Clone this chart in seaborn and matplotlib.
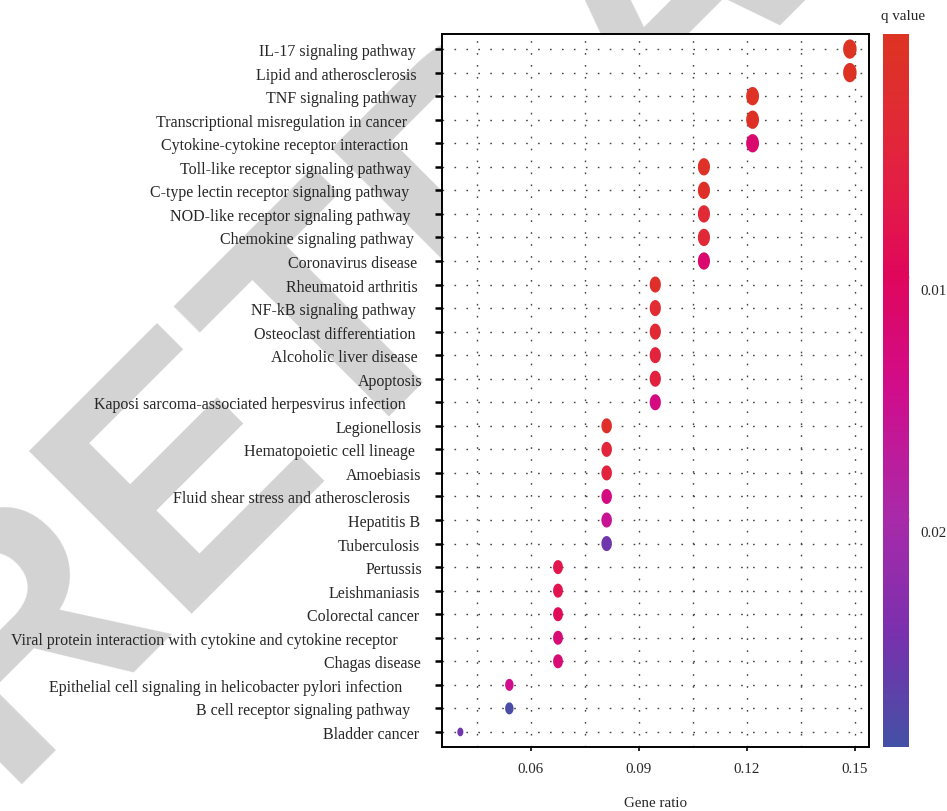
import numpy as np
import pandas as pd
import matplotlib
matplotlib.use("Agg")
import matplotlib.pyplot as plt
import matplotlib.transforms as mtransforms
import seaborn as sns
from matplotlib.colors import LinearSegmentedColormap, Normalize
from matplotlib.cm import ScalarMappable
from matplotlib.path import Path

# KEGG enrichment results
pathways = [
    "IL-17 signaling pathway",
    "Lipid and atherosclerosis",
    "TNF signaling pathway",
    "Transcriptional misregulation in cancer",
    "Cytokine-cytokine receptor interaction",
    "Toll-like receptor signaling pathway",
    "C-type lectin receptor signaling pathway",
    "NOD-like receptor signaling pathway",
    "Chemokine signaling pathway",
    "Coronavirus disease",
    "Rheumatoid arthritis",
    "NF-kB signaling pathway",
    "Osteoclast differentiation",
    "Alcoholic liver disease",
    "Apoptosis",
    "Kaposi sarcoma-associated herpesvirus infection",
    "Legionellosis",
    "Hematopoietic cell lineage",
    "Amoebiasis",
    "Fluid shear stress and atherosclerosis",
    "Hepatitis B",
    "Tuberculosis",
    "Pertussis",
    "Leishmaniasis",
    "Colorectal cancer",
    "Viral protein interaction with cytokine and cytokine receptor",
    "Chagas disease",
    "Epithelial cell signaling in helicobacter pylori infection",
    "B cell receptor signaling pathway",
    "Bladder cancer",
]
gene_ratio = [0.1486, 0.1486, 0.1216, 0.1216, 0.1216,
              0.1081, 0.1081, 0.1081, 0.1081, 0.1081,
              0.0946, 0.0946, 0.0946, 0.0946, 0.0946, 0.0946,
              0.0811, 0.0811, 0.0811, 0.0811, 0.0811, 0.0811,
              0.0676, 0.0676, 0.0676, 0.0676, 0.0676,
              0.0541, 0.0541, 0.0405]
gene_count = [11, 11, 9, 9, 9,
              8, 8, 8, 8, 8,
              7, 7, 7, 7, 7, 7,
              6, 6, 6, 6, 6, 6,
              5, 5, 5, 5, 5,
              4, 4, 3]
q_value = [0.0002, 0.0003, 0.0006, 0.0008, 0.0118,
           0.0010, 0.0012, 0.0035, 0.0040, 0.0118,
           0.0015, 0.0030, 0.0035, 0.0050, 0.0055, 0.0135,
           0.0015, 0.0045, 0.0050, 0.0135, 0.0160, 0.0255,
           0.0075, 0.0080, 0.0095, 0.0125, 0.0125,
           0.0147, 0.0288, 0.0256]

q_ticks = [0.01, 0.02]
x_major = [0.06, 0.09, 0.12, 0.15]
x_minor = [0.045, 0.075, 0.105, 0.135]

df = pd.DataFrame({"Pathway": pathways, "GeneRatio": gene_ratio,
                   "Count": gene_count, "q": q_value})

sns.set_theme(style="white")
plt.rcParams["font.family"] = ["Liberation Serif", "DejaVu Serif"]

cmap = LinearSegmentedColormap.from_list("qscale", [
    (0.00, "#DD3322"), (0.10, "#E02C32"), (0.22, "#E31D45"),
    (0.34, "#E0065C"), (0.50, "#D00D8C"), (0.68, "#A82AAA"),
    (0.84, "#7A30AE"), (1.00, "#4450A5")])
norm = Normalize(vmin=0.0, vmax=0.0294)

# marker area (pt^2) for each gene count
count_sizes = {3: 39, 4: 75, 5: 102, 6: 117, 7: 133, 8: 155, 9: 174, 11: 193}

fig = plt.figure(figsize=(9.47, 8.12), dpi=100)

# diagonal stamp behind the panel
fig.text(0.0, 0.0345, "RETRACTED", fontsize=241, fontweight="bold",
         family="Liberation Sans", color="#D3D3D3", rotation=45,
         rotation_mode="anchor", ha="left", va="baseline", zorder=-5)

ax = fig.add_axes([0.4667, 0.0788, 0.4509, 0.8781])
ax.set_facecolor("white")

# slightly tall elliptical marker
theta = np.linspace(0, 2 * np.pi, 64)
ellipse = Path(np.column_stack([0.70 * np.cos(theta), np.sin(theta)]), closed=True)

sns.scatterplot(data=df, x="GeneRatio", y="Pathway", hue="q", palette=cmap,
                hue_norm=norm, size="Count", sizes=count_sizes,
                marker=ellipse, linewidth=0, legend=False, ax=ax, zorder=3)

n = len(pathways)
ax.set_ylim(n - 1 + 0.64, -0.64)
ax.set_xlim(0.0354, 0.1539)
ax.set_xticks(x_major)
ax.set_xticks(x_minor, minor=True)
ax.set_xticklabels(["0.06", "0.09", "0.12", "0.15"])

dot = dict(color="#444444", linestyle=(0, (1.2, 7.4)), linewidth=1.0)
ax.grid(True, which="both", axis="x", **dot)
ax.grid(True, which="major", axis="y", **dot)
ax.set_axisbelow(True)

for s in ax.spines.values():
    s.set_visible(True)
    s.set_color("black")
    s.set_linewidth(1.4)

ax.tick_params(axis="y", which="major", direction="out", length=5, width=1.8,
               color="black", labelsize=11.5, pad=9, left=True)
ax.tick_params(axis="x", which="major", direction="out", length=3, width=1.2,
               color="black", labelsize=10.8, pad=8, bottom=True)
ax.tick_params(axis="x", which="minor", length=0)
ax.set_xlabel("Gene ratio", fontsize=10.8, labelpad=15)
ax.set_ylabel("")

# ragged right edge of the pathway labels (extra gap in pixels)
label_gap_px = [7, 6, 6, 15, 14, 11, 13, 12, 9, 5,
                5, 7, 7, 5, 0, 17, 1, 8, 1, 13,
                2, 3, 0, 2, 3, 25, 2, 20, 12, 3]
for lab, gap in zip(ax.get_yticklabels(), label_gap_px):
    lab.set_transform(lab.get_transform() +
                      mtransforms.ScaledTranslation(-gap / 100, 0, fig.dpi_scale_trans))

# colour bar for q value
cax = fig.add_axes([0.9324, 0.0788, 0.0275, 0.8781])
cb = fig.colorbar(ScalarMappable(norm=norm, cmap=cmap), cax=cax)
cb.outline.set_visible(False)
cax.set_ylim(0.0294, 0.0)
cb.set_ticks(q_ticks)
cb.set_ticklabels(["0.01", "0.02"])
cax.tick_params(axis="y", direction="in", length=5, width=2.5, color="#F4B8CC",
                labelsize=10.8, pad=8, right=True)
shift = mtransforms.ScaledTranslation(0, -12 / 100, fig.dpi_scale_trans)
for lab in cax.get_yticklabels():
    lab.set_transform(lab.get_transform() + shift)
fig.text(0.9535, 0.980, "q value", fontsize=10.8, ha="center", va="center")

fig.savefig("out.png", dpi=100, facecolor="white")
